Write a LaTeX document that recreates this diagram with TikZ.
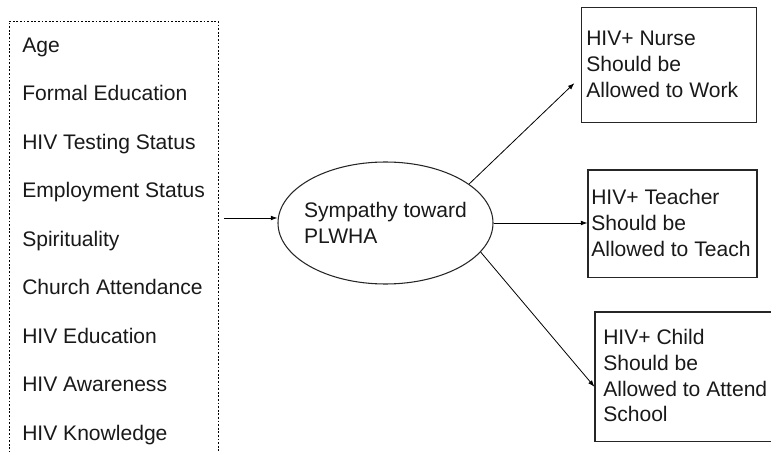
\documentclass[tikz,border=0pt]{standalone}
\usepackage{fontspec}
\setmainfont{Liberation Sans}
\usetikzlibrary{arrows.meta,calc,shapes.geometric}

\begin{document}
\begin{tikzpicture}[
  x=0.75pt, y=-0.75pt,
  every node/.style={font=\fontsize{15.8pt}{19.3pt}\selectfont, text=black!90},
  factor/.style={anchor=base west, inner sep=0pt},
  outcome/.style={draw=black!85, line width=0.8pt, rectangle, inner sep=0pt},
  % multi-line text: the base anchor sits on the last line
  outtext/.style={anchor=base west, inner sep=0pt, align=left},
  latent/.style={draw=black!85, line width=0.8pt, ellipse, inner sep=0pt,
    minimum width=161.25pt, minimum height=91.5pt},
  arr/.style={line width=0.6pt, -{Latex[length=5pt,width=3.6pt]}},
  frame/.style={line width=0.7pt, dash pattern=on 1.4pt off 1.3pt}
]
\useasboundingbox (0,0) rectangle (771,452);
\clip (0,0) rectangle (771,452);

% dotted frame around the predictors (open at the bottom)
\draw[frame] (9,460) -- (9,21) -- (218,21) -- (218,460);

% predictor list
\foreach \t [count=\i] in {Age, Formal Education, HIV Testing Status,
    Employment Status, Spirituality, Church Attendance, HIV Education,
    HIV Awareness, HIV Knowledge}
  \node[factor] (v\i) at (22, {52.3 + (\i-1)*48.5}) {\t};

% latent construct
\node[latent] (ell) at (385.5,223) {};
\node[align=left, inner sep=0pt] (ellT) at (ell.center) {Sympathy toward\\PLWHA};

% outcome boxes
\node[outcome, minimum width=131.25pt, minimum height=86.25pt] (nurse) at (669.2,64.8) {};
\node[outcome, minimum width=126.75pt, minimum height=80.8pt] (teacher) at (672.5,223.85) {};
\node[outcome, minimum width=146.25pt, minimum height=97.3pt] (child) at (692.5,376.85) {};

\node[outtext] (nurseT) at (586,97.3) {HIV+ Nurse\\Should be\\Allowed to Work};
\node[outtext] (teacherT) at (591,256.2) {HIV+ Teacher\\Should be\\Allowed to Teach};
\node[outtext] (childT) at (603,421.9) {HIV+ Child\\Should be\\Allowed to Attend\\School};

% connectors
\coordinate (in) at (224,218);
\draw[arr] (in) -- (in -| ell.west);
\draw[arr, shorten >=7pt] (ell.25) -- ($(nurse.west)+(0,11.8)$);
\draw[arr] (ell.east) -- (ell.east -| teacher.west);
\draw[arr] (ell.-17) -- ($(child.west)+(0,10)$);
\end{tikzpicture}
\end{document}
